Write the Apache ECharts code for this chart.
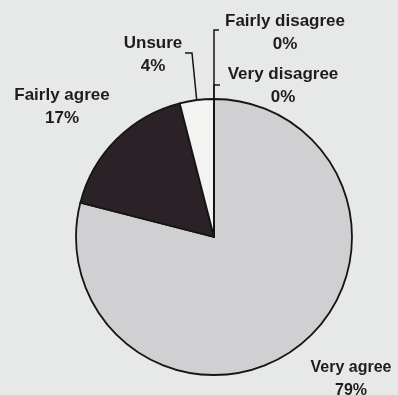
<!DOCTYPE html>
<html>
<head>
<meta charset="utf-8">
<script src="https://cdn.jsdelivr.net/npm/echarts@6/dist/echarts.min.js"></script>
<style>
  html, body { margin: 0; padding: 0; background: #e7e9e8; }
  #chart { width: 398px; height: 395px; }
</style>
</head>
<body>
<div id="chart"></div>
<script>
// Survey answers, in drawing order (clockwise from 12 o'clock)
const categories = ['Very agree', 'Fairly agree', 'Unsure', 'Fairly disagree', 'Very disagree'];
const shares = [79, 17, 4, 0, 0];
const sliceColors = ['#d0d0d2', '#2a2227', '#f3f3f1', '#f3f3f1', '#f3f3f1'];

// Where each label block sits: [centre x, top y] and whether it gets a leader line
const labelSpots = [
  { x: 351, y: 356, line: false, size: 16 },
  { x: 62, y: 84, line: false, size: 17 },
  { x: 153, y: 32, line: true, elbow: [[192, 53], [185, 53]], size: 17 },
  { x: 285, y: 10, line: true, elbow: [[214, 30], [219, 30]], size: 17 },
  { x: 283, y: 63, line: true, elbow: [[214, 85], [220, 85]], size: 17 }
];

const chart = echarts.init(document.getElementById('chart'), null, { renderer: 'canvas' });

const data = categories.map((name, i) => ({
  name,
  value: shares[i],
  itemStyle: { color: sliceColors[i] },
  label: { fontSize: labelSpots[i].size },
  labelLine: { show: labelSpots[i].line }
}));

chart.setOption({
  backgroundColor: '#e7e9e8',
  animation: false,
  series: [{
    type: 'pie',
    center: [214, 237],
    radius: 138,
    startAngle: 90,
    clockwise: true,
    avoidLabelOverlap: false,
    minShowLabelAngle: 0,
    data,
    itemStyle: { borderColor: '#161414', borderWidth: 1.8 },
    emphasis: { disabled: true },
    label: {
      show: true,
      position: 'outside',
      formatter: p => p.name + '\n' + p.value + '%',
      fontFamily: "'Liberation Sans', Arial, sans-serif",
      fontWeight: 'bold',
      fontSize: 17,
      lineHeight: 23,
      color: '#1f1c1e',
      align: 'center'
    },
    labelLine: {
      show: true,
      lineStyle: { color: '#161414', width: 1.5 }
    },
    labelLayout: params => {
      const spot = labelSpots[params.dataIndex];
      const out = { x: spot.x, y: spot.y, align: 'center', verticalAlign: 'top' };
      if (spot.line && params.labelLinePoints) {
        out.labelLinePoints = [params.labelLinePoints[0]].concat(spot.elbow);
      }
      return out;
    }
  }]
});
</script>
</body>
</html>
